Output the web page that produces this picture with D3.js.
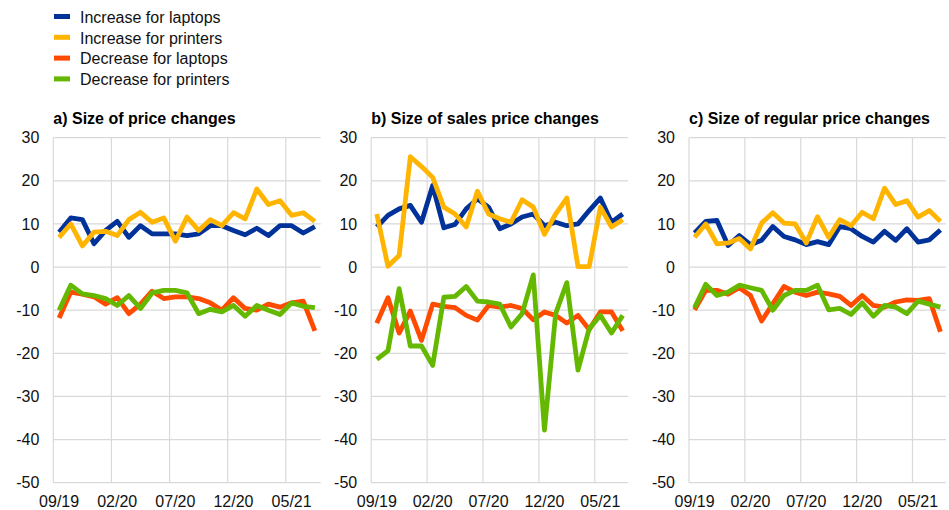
<!DOCTYPE html>
<html>
<head>
<meta charset="utf-8">
<script src="https://cdn.jsdelivr.net/npm/d3@7"></script>
<style>
  html, body { margin: 0; padding: 0; background: #fff; }
  svg { display: block; font-family: "Liberation Sans", Arial, sans-serif; }
</style>
</head>
<body>
<svg id="chart" width="949" height="510"></svg>
<script>
// Monthly observations, 09/19 to 07/21
const months = ["09/19","10/19","11/19","12/19","01/20","02/20","03/20","04/20","05/20","06/20",
  "07/20","08/20","09/20","10/20","11/20","12/20","01/21","02/21","03/21","04/21","05/21","06/21","07/21"];
const tickLabels = ["09/19", "02/20", "07/20", "12/20", "05/21"];
const yTicks = [30, 20, 10, 0, -10, -20, -30, -40, -50];

const seriesNames = ["Increase for laptops", "Increase for printers", "Decrease for laptops", "Decrease for printers"];
const seriesColors = ["#003299", "#FFB400", "#FF4B00", "#65B800"];
const panelTitles = ["a) Size of price changes", "b) Size of sales price changes", "c) Size of regular price changes"];

// a) all price changes
const aIncLaptops  = [8.1, 11.4, 11.0, 5.4, 8.5, 10.6, 6.9, 9.6, 7.7, 7.7, 7.7, 7.3, 7.7, 9.6, 9.6, 8.5, 7.5, 9.0, 7.3, 9.6, 9.6, 7.9, 9.4];
const aIncPrinters = [6.9, 10.0, 4.9, 8.1, 8.3, 7.3, 11.0, 12.7, 10.4, 11.4, 6.0, 11.6, 8.5, 11.0, 9.6, 12.6, 11.2, 18.1, 14.5, 15.4, 12.0, 12.6, 10.6];
const aDecLaptops  = [-11.8, -5.8, -6.3, -6.9, -8.6, -7.1, -10.8, -8.6, -5.6, -7.3, -6.9, -6.9, -7.3, -8.3, -10.0, -7.1, -9.6, -10.0, -8.6, -9.3, -8.3, -7.9, -14.8];
const aDecPrinters = [-10.0, -4.2, -6.2, -6.6, -7.3, -8.9, -6.6, -9.6, -6.0, -5.4, -5.4, -6.0, -10.8, -9.8, -10.4, -8.9, -11.4, -8.9, -10.0, -11.0, -8.3, -9.1, -9.4];

// b) sales price changes
const bIncLaptops  = [9.3, 12.0, 13.5, 14.3, 10.4, 18.9, 9.1, 9.9, 13.5, 15.8, 13.9, 8.9, 10.0, 11.6, 12.3, 9.6, 10.4, 9.6, 10.0, 13.1, 16.0, 10.4, 12.3];
const bIncPrinters = [12.3, 0.2, 2.7, 25.6, 23.3, 20.8, 13.9, 12.3, 9.3, 17.6, 12.3, 11.2, 10.4, 15.6, 13.9, 7.6, 12.3, 16.0, 0.1, 0.1, 13.9, 9.3, 11.0];
const bDecLaptops  = [-13.0, -7.1, -15.3, -10.2, -17.0, -8.6, -9.1, -9.4, -11.2, -12.3, -8.9, -9.3, -8.9, -9.6, -12.2, -10.4, -11.2, -13.0, -11.2, -14.5, -10.4, -10.4, -14.8];
const bDecPrinters = [-21.4, -19.4, -5.0, -18.3, -18.3, -22.8, -7.0, -6.8, -4.5, -7.9, -8.1, -8.6, -13.9, -10.8, -1.8, -37.8, -10.8, -3.6, -23.9, -14.3, -11.2, -15.3, -11.2];

// c) regular price changes
const cIncLaptops  = [7.9, 10.6, 10.8, 5.0, 7.3, 5.2, 6.2, 9.4, 7.1, 6.3, 5.2, 5.9, 5.2, 9.4, 8.9, 7.1, 5.8, 8.3, 6.2, 8.9, 5.8, 6.3, 8.6];
const cIncPrinters = [6.9, 10.0, 5.4, 5.6, 6.6, 4.2, 10.2, 12.6, 10.2, 10.0, 5.6, 11.7, 6.9, 11.0, 9.6, 12.7, 11.2, 18.3, 14.5, 15.4, 11.6, 13.1, 10.6];
const cDecLaptops  = [-9.9, -5.4, -5.4, -6.3, -4.8, -6.6, -12.5, -8.5, -4.5, -5.8, -6.6, -5.8, -6.2, -6.8, -8.9, -6.6, -8.9, -9.3, -8.1, -7.6, -7.7, -7.3, -15.0];
const cDecPrinters = [-9.4, -4.0, -6.6, -5.8, -4.2, -4.8, -5.4, -10.0, -6.6, -5.4, -5.4, -4.2, -9.9, -9.6, -11.0, -8.3, -11.4, -8.9, -9.3, -10.8, -7.9, -8.6, -9.3];

const panelSeries = [
  [aIncLaptops, aIncPrinters, aDecLaptops, aDecPrinters],
  [bIncLaptops, bIncPrinters, bDecLaptops, bDecPrinters],
  [cIncLaptops, cIncPrinters, cDecLaptops, cDecPrinters]
];

// plot areas for the three panels
const panels = [
  { left: 53.3, right: 320.7 },
  { left: 371.2, right: 628.3 },
  { left: 689, right: 946 }
];
const plotTop = 137.7, plotBottom = 482.7;
const gridColor = "#d9d9d9";
const textColor = "#111";
const fontSize = 16;

const svg = d3.select("#chart");

// legend
const legend = svg.append("g");
seriesNames.forEach((name, i) => {
  const yy = 22.7 + i * 20.8;
  legend.append("rect")
    .attr("x", 54).attr("y", yy - 8.7).attr("width", 16).attr("height", 5)
    .attr("fill", seriesColors[i]);
  legend.append("text")
    .attr("x", 80).attr("y", yy)
    .attr("font-size", fontSize).attr("fill", textColor)
    .text(name);
});

const y = d3.scaleLinear().domain([-50, 30]).range([plotBottom, plotTop]);

panels.forEach((p, pi) => {
  const g = svg.append("g");
  const x = d3.scaleBand().domain(months).range([p.left, p.right]).paddingInner(0).paddingOuter(0);
  const cx = m => x(m) + x.bandwidth() / 2;

  // horizontal gridlines
  g.append("g").selectAll("line").data(yTicks).join("line")
    .attr("x1", p.left).attr("x2", p.right)
    .attr("y1", d => y(d)).attr("y2", d => y(d))
    .attr("stroke", gridColor).attr("stroke-width", 1.2);

  // vertical gridlines at every fifth month boundary (and the y axis)
  const vMonths = months.filter((m, i) => i % 5 === 0);
  g.append("g").selectAll("line").data(vMonths).join("line")
    .attr("x1", d => x(d)).attr("x2", d => x(d))
    .attr("y1", plotTop).attr("y2", plotBottom)
    .attr("stroke", gridColor).attr("stroke-width", 1.2);

  // y tick labels
  g.append("g").selectAll("text").data(yTicks).join("text")
    .attr("x", p.left - 14).attr("y", d => y(d))
    .attr("dy", "0.35em").attr("text-anchor", "end")
    .attr("font-size", fontSize).attr("fill", textColor)
    .text(d => d);

  // x tick labels
  g.append("g").selectAll("text").data(tickLabels).join("text")
    .attr("x", d => cx(d)).attr("y", 507)
    .attr("text-anchor", "middle")
    .attr("font-size", fontSize).attr("fill", textColor)
    .text(d => d);

  // panel title
  g.append("text")
    .attr("x", p.left).attr("y", 124)
    .attr("font-size", fontSize).attr("font-weight", "bold").attr("fill", "#000")
    .text(panelTitles[pi]);

  // series lines
  const line = d3.line().x((d, i) => cx(months[i])).y(d => y(d));
  panelSeries[pi].forEach((vals, si) => {
    g.append("path")
      .datum(vals)
      .attr("d", line)
      .attr("fill", "none")
      .attr("stroke", seriesColors[si])
      .attr("stroke-width", 4.8)
      .attr("stroke-linejoin", "round")
      .attr("stroke-linecap", "butt");
  });
});
</script>
</body>
</html>
